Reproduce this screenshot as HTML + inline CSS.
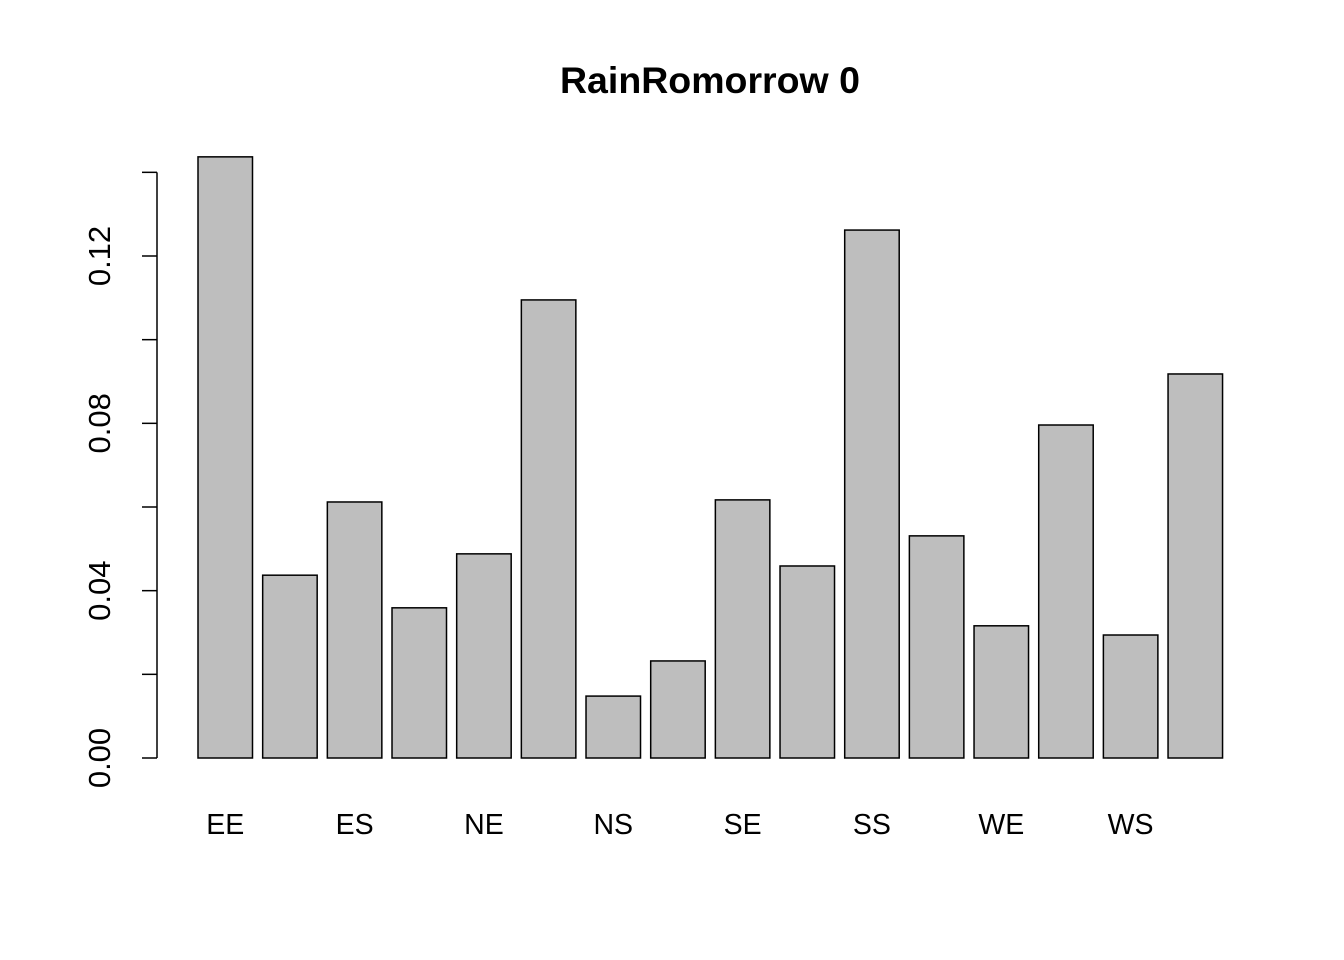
<!DOCTYPE html>
<html><head><meta charset="utf-8"><style>
html,body{margin:0;padding:0;background:#fff;}
svg{display:block;font-family:"Liberation Sans",Arial,sans-serif;}
</style></head><body>
<svg id="chart" width="1344" height="960" viewBox="0 0 1344 960">
<rect width="1344" height="960" fill="#fff"/>
<text x="710" y="93" text-anchor="middle" font-size="37.5" font-weight="bold">RainRomorrow 0</text>
<g id="bars"></g><g id="yaxis"></g><g id="xlabels"></g>
</svg>
<script>
const categories = ["EE","EN","ES","EW","NE","NN","NS","NW","SE","SN","SS","SW","WE","WN","WS","WW"];
const values = [0.1437,0.0437,0.0612,0.0359,0.0488,0.1095,0.0148,0.0232,0.0617,0.0459,0.1262,0.0531,0.0316,0.0796,0.0294,0.0918];
const yTicks = [0,0.02,0.04,0.06,0.08,0.10,0.12,0.14];
const yTickLabels = ["0.00","","0.04","","0.08","","0.12",""];

const NS="http://www.w3.org/2000/svg";
const y0=758, pxPerUnit=(758-256)/0.12;
function yScale(v){return y0-v*pxPerUnit;}
const barStart=198, barStep=64.67, barW=54.5;
function xScale(i){return barStart+i*barStep;}

const gb=document.getElementById('bars');
values.forEach((v,i)=>{
  const r=document.createElementNS(NS,'rect');
  r.setAttribute('x',xScale(i));r.setAttribute('y',yScale(v));
  r.setAttribute('width',barW);r.setAttribute('height',y0-yScale(v));
  r.setAttribute('fill','#bebebe');r.setAttribute('stroke','#000');r.setAttribute('stroke-width','1.5');
  
  
  gb.appendChild(r);
});

const gy=document.getElementById('yaxis');
const ax=document.createElementNS(NS,'line');
ax.setAttribute('x1',157);ax.setAttribute('x2',157);
ax.setAttribute('y1',yScale(yTicks[yTicks.length-1]));ax.setAttribute('y2',yScale(yTicks[0]));
ax.setAttribute('stroke','#000');ax.setAttribute('stroke-width','1.5');


gy.appendChild(ax);
yTicks.forEach((t,i)=>{
  const y=yScale(t);
  const l=document.createElementNS(NS,'line');
  l.setAttribute('x1',142);l.setAttribute('x2',157);l.setAttribute('y1',y);l.setAttribute('y2',y);
  l.setAttribute('stroke','#000');l.setAttribute('stroke-width','1.5');
  
  
  gy.appendChild(l);
  if(yTickLabels[i]){
    const tx=document.createElementNS(NS,'text');
    tx.setAttribute('transform','translate(110,'+y+') rotate(-90)');
    tx.setAttribute('text-anchor','middle');tx.setAttribute('font-size','31');
    tx.textContent=yTickLabels[i];
    
    
    gy.appendChild(tx);
  }
});

const gx=document.getElementById('xlabels');
categories.forEach((c,i)=>{
  if(i%2!==0) return;
  const tx=document.createElementNS(NS,'text');
  tx.setAttribute('x',xScale(i)+barW/2);tx.setAttribute('y',834);
  tx.setAttribute('text-anchor','middle');tx.setAttribute('font-size','28.5');
  tx.textContent=c;
  
  
  gx.appendChild(tx);
});
</script>
</body></html>
